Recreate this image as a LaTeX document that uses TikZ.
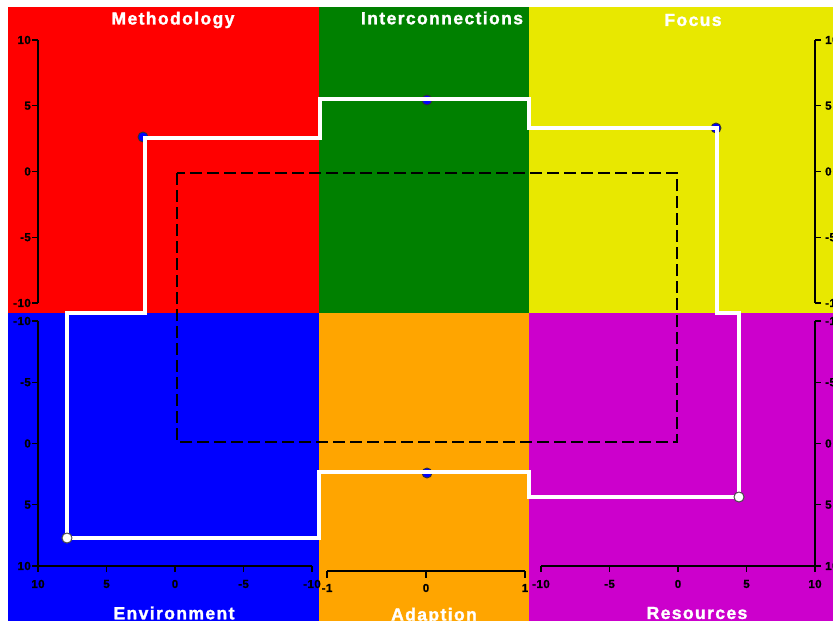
\documentclass[tikz,border=0pt]{standalone}
\usepackage{fontspec}
\setmainfont{Liberation Sans}
\newfontfamily\titlefont[LetterSpace=8,FakeBold=1.5]{Liberation Sans Bold}
\newfontfamily\tickfont[LetterSpace=4,FakeBold=1]{Liberation Sans Bold}
\definecolor{pred}{RGB}{255,0,0}
\definecolor{pgreen}{RGB}{0,128,0}
\definecolor{pyellow}{RGB}{232,232,0}
\definecolor{pblue}{RGB}{0,0,255}
\definecolor{porange}{RGB}{255,165,0}
\definecolor{pmagenta}{RGB}{204,0,204}
\tikzset{
  paneltitle/.style={text=white,font=\titlefont\fontsize{17.5}{17.5}\selectfont,inner sep=0pt},
  ticklab/.style={text=black,font=\tickfont\fontsize{11.5}{11.5}\selectfont,inner sep=0pt},
  axisline/.style={black,line width=1.3pt},
  profile/.style={white,line width=3.6pt,line join=miter},
  bluedot/.style={circle,fill=pblue,draw=black!80,line width=0.9pt,minimum size=10pt,inner sep=0pt},
  whitedot/.style={circle,fill=white,draw=black!70,line width=0.9pt,minimum size=10pt,inner sep=0pt},
  refbox/.style={black,line width=1.4pt,dash pattern=on 12pt off 5pt}
}
\begin{document}
\begin{tikzpicture}[x=1pt,y=-1pt]
\useasboundingbox (0,0) rectangle (833,621);
\clip (0,0) rectangle (833,621);
\fill[white] (0,0) rectangle (833,621);
% panels
\fill[pred] (8,7) rectangle (319,313);
\fill[pgreen] (319,7) rectangle (529,313);
\fill[pyellow] (529,7) rectangle (840,313);
\fill[pblue] (8,313) rectangle (319,621);
\fill[porange] (319,313) rectangle (529,621);
\fill[pmagenta] (529,313) rectangle (840,621);
% titles
\node[paneltitle] (tmeth) at (173,20) {Methodology};
\node[paneltitle] (tinter) at (442,18) {Interconnections};
\node[paneltitle] (tfocus) at (693,20) {Focus};
\node[paneltitle] (tenv) at (174,613) {Environment};
\node[paneltitle] (tadap) at (434,616) {Adaption};
\node[paneltitle] (tres) at (697,613) {Resources};
% red vertical axis
\draw[axisline] (38,40) -- (38,303);
\foreach \yy/\lab in {40/10,105.75/5,171.5/0,237.25/-5,303/-10}{
  \draw[axisline] (32,\yy) -- (38,\yy);
  \node[ticklab,anchor=east] at (31,\yy) {\lab};
}
% blue vertical axis
\draw[axisline] (38,321) -- (38,566);
\foreach \yy/\lab in {321/-10,382.25/-5,443.5/0,504.75/5,566/10}{
  \draw[axisline] (32,\yy) -- (38,\yy);
  \node[ticklab,anchor=east] at (31,\yy) {\lab};
}
% blue horizontal axis
\draw[axisline] (38,566) -- (312,566);
\foreach \xx/\lab in {38/10,106.5/5,175/0,243.5/-5,312/-10}{
  \draw[axisline] (\xx,566) -- (\xx,572);
  \node[ticklab] at (\xx,584) {\lab};
}
% orange horizontal axis
\draw[axisline] (327,571) -- (525,571);
\foreach \xx/\lab in {327/-1,426/0,525/1}{
  \draw[axisline] (\xx,571) -- (\xx,578);
  \node[ticklab] at (\xx,588) {\lab};
}
% yellow vertical axis
\draw[axisline] (815,40) -- (815,303);
\foreach \yy/\lab in {40/10,105.75/5,171.5/0,237.25/-5,303/-10}{
  \draw[axisline] (815,\yy) -- (821,\yy);
  \node[ticklab,anchor=west] at (825,\yy) {\lab};
}
% magenta vertical axis
\draw[axisline] (815,321) -- (815,566);
\foreach \yy/\lab in {321/-10,382.25/-5,443.5/0,504.75/5,566/10}{
  \draw[axisline] (815,\yy) -- (821,\yy);
  \node[ticklab,anchor=west] at (825,\yy) {\lab};
}
% magenta horizontal axis
\draw[axisline] (541,566) -- (815,566);
\foreach \xx/\lab in {541/-10,609.5/-5,678/0,746.5/5,815/10}{
  \draw[axisline] (\xx,566) -- (\xx,572);
  \node[ticklab] at (\xx,584) {\lab};
}
% dashed reference box
\draw[refbox] (177,173) rectangle (677,442);
% dots
\node[bluedot] (dmeth) at (143,137) {};
\node[bluedot] (dinter) at (427,100) {};
\node[bluedot] (dfocus) at (716,128) {};
\node[bluedot] (dadap) at (427,473) {};
\node[whitedot] (denv) at (67,538) {};
\node[whitedot] (dres) at (739,497) {};
% profile line
\draw[profile] (145,138) -- (145,313) -- (67,313) -- (67,538) -- (319,538)
  -- (319,472) -- (529,472) -- (529,497) -- (739,497) -- (739,313)
  -- (717,313) -- (717,128) -- (529,128) -- (529,99)
  -- (320,99) -- (320,138) -- cycle;
% white dots sit on top of the line
\node[whitedot] (denv2) at (denv) {};
\node[whitedot] (dres2) at (dres) {};
\end{tikzpicture}
\end{document}
